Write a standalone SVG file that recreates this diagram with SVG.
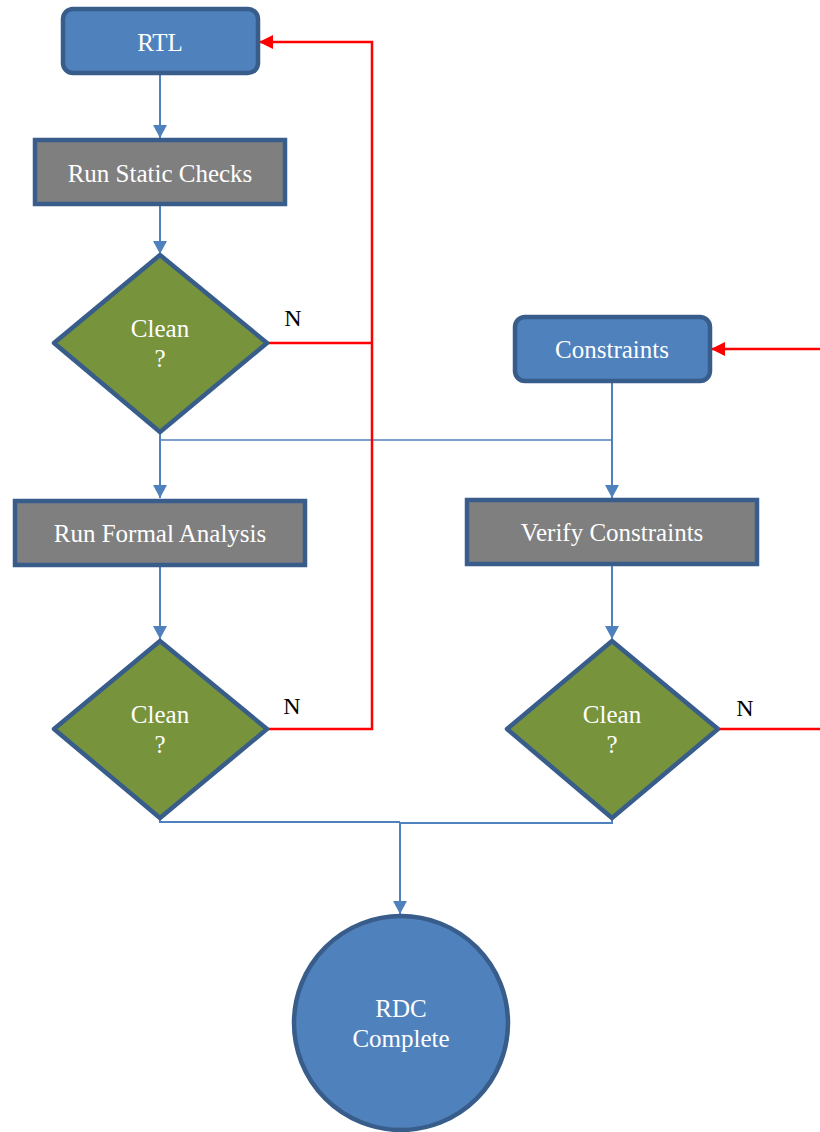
<svg xmlns="http://www.w3.org/2000/svg" width="820" height="1132" viewBox="0 0 820 1132">
<style>
.t{font-family:"Liberation Serif","Times New Roman",serif;font-size:25px;fill:#FFFFFF;text-anchor:middle}
.n{font-family:"Liberation Serif","Times New Roman",serif;font-size:24px;fill:#000000;text-anchor:middle}
.blue{fill:#4F81BD;stroke:#385D8A;stroke-width:4.5}
.gray{fill:#7F7F7F;stroke:#385D8A;stroke-width:4.5}
.green{fill:#77933C;stroke:#385D8A;stroke-width:4.5;stroke-linejoin:round}
.bl{fill:none;stroke:#4F81BD;stroke-width:2}
.bt{fill:none;stroke:#4F81BD;stroke-width:1.5}
.rd{fill:none;stroke:#FF0000;stroke-width:2.5}
</style>
<defs>
<marker id="ab" markerUnits="userSpaceOnUse" markerWidth="14" markerHeight="14" viewBox="0 0 13 14" refX="13" refY="7" orient="auto">
<path d="M0,0 L13,7 L0,14 Z" fill="#4F81BD"/>
</marker>
<marker id="ar" markerUnits="userSpaceOnUse" markerWidth="14" markerHeight="14" viewBox="0 0 13 13" refX="13" refY="6.5" orient="auto">
<path d="M0,0 L13,6.5 L0,13 Z" fill="#FF0000"/>
</marker>
</defs>
<g id="connectors">
<path class="bl" d="M160,75 V138" marker-end="url(#ab)"/>
<path class="bl" d="M160,206 V254" marker-end="url(#ab)"/>
<path class="bl" d="M160,433 V498" marker-end="url(#ab)"/>
<path class="bt" d="M160,440 H612"/>
<path class="bl" d="M612,382 V498" marker-end="url(#ab)"/>
<path class="bl" d="M160,566 V639" marker-end="url(#ab)"/>
<path class="bl" d="M612,566 V639" marker-end="url(#ab)"/>
<path class="bl" d="M160,819 V822 H400 M612,819 V823 H400"/>
<path class="bl" d="M400,822 V914" marker-end="url(#ab)"/>
<path class="rd" d="M267,343 H372"/>
<path class="rd" d="M267,729 H372 V42 H259" marker-end="url(#ar)"/>
<path class="rd" d="M820,349 H711" marker-end="url(#ar)"/>
<path class="rd" d="M718,729 H820"/>
<text class="n" x="293" y="326">N</text>
<text class="n" x="292" y="714">N</text>
<text class="n" x="745" y="716">N</text>
</g>
<g id="rtl">
<rect class="blue" x="63" y="9" width="195" height="64" rx="10"/>
<text class="t" x="160" y="51">RTL</text>
</g>
<g id="static">
<rect class="gray" x="35" y="140" width="250" height="64"/>
<text class="t" x="160" y="182">Run Static Checks</text>
</g>
<g id="clean1">
<path class="green" d="M160,255 L267,343 L160,432 L54,343 Z"/>
<text class="t" x="160" y="337">Clean</text>
<text class="t" x="160" y="367">?</text>
</g>
<g id="constraints">
<rect class="blue" x="515" y="317" width="195" height="64" rx="10"/>
<text class="t" x="612" y="358">Constraints</text>
</g>
<g id="formal">
<rect class="gray" x="15" y="501" width="290" height="64"/>
<text class="t" x="160" y="542">Run Formal Analysis</text>
</g>
<g id="verify">
<rect class="gray" x="467" y="500" width="290" height="64"/>
<text class="t" x="612" y="541">Verify Constraints</text>
</g>
<g id="clean2">
<path class="green" d="M160,641 L267,729 L160,818 L54,729 Z"/>
<text class="t" x="160" y="723">Clean</text>
<text class="t" x="160" y="753">?</text>
</g>
<g id="clean3">
<path class="green" d="M612,641 L718,729 L612,818 L507,729 Z"/>
<text class="t" x="612" y="723">Clean</text>
<text class="t" x="612" y="753">?</text>
</g>
<g id="rdc">
<circle class="blue" cx="401" cy="1023" r="107"/>
<text class="t" x="401" y="1017">RDC</text>
<text class="t" x="401" y="1047">Complete</text>
</g>
</svg>
